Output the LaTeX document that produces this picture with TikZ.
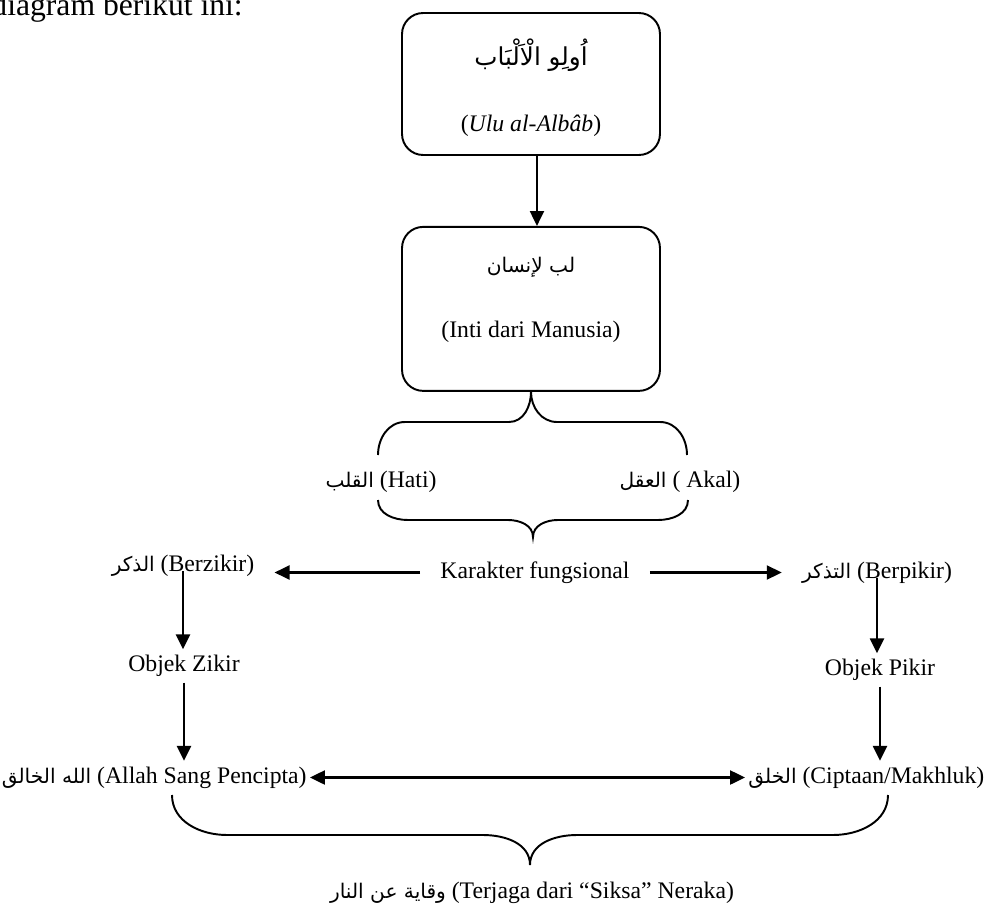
\documentclass[tikz,border=0pt]{standalone}
\usepackage{fontspec}
\setmainfont{Liberation Serif}
\newfontfamily\arabicfont[Script=Arabic,Scale=0.85]{DejaVu Sans}
\TeXXeTstate=1
\usetikzlibrary{positioning,arrows.meta}
\newcommand{\arab}[1]{{\arabicfont\beginR#1\endR}}

\begin{document}
\begin{tikzpicture}[
  x=0.02cm, y=-0.02cm,
  font=\fontsize{13.5}{16}\selectfont,
  panel/.style  ={draw, rounded corners=12pt, line width=1.1pt,
                  minimum width=5.16cm, minimum height=2.84cm},
  lbl/.style    ={text height=0.32cm, text depth=0.1cm},
  rowlbl/.style ={lbl, inner xsep=0.4cm},
  endlbl/.style ={lbl, inner xsep=0.06cm},
  bracepath/.style={line width=1.1pt},
  arr/.style    ={-{Triangle[length=8.5pt,width=8pt]}, line width=1.2pt},
  dbl/.style    ={{Triangle[length=8.5pt,width=8pt]}-{Triangle[length=8.5pt,width=8pt]}, line width=1.2pt}
]
\useasboundingbox (0,0) rectangle (995,916);
\node[anchor=base east, inner sep=0pt, font=\fontsize{18}{21}\selectfont] (judul) at (243,15) {diagram berikut ini:};

\node[panel] (ulu) at (531,84) {};
\node[panel, minimum height=3.28cm, below=1.4cm of ulu] (lubb) {};
\node[font=\fontsize{16.5}{19}\selectfont] (uluar) at (531,55) {\arab{اُولِو الْاَلْبَاب}};
\node (ulutr) at (531,126) {(\textit{Ulu al-Albâb})};
\node (lubbar) at (531,267) {\arab{لب لإنسان}};
\node (lubbtr) at (531,332) {(Inti dari Manusia)};

\node[lbl, anchor=base] (hati) at (381,487) {\arab{القلب} (Hati)};
\node[lbl, anchor=base] (akal) at (680,487) {\arab{العقل} ( Akal)};

\node[rowlbl, anchor=base] (karakter) at (535,578) {Karakter fungsional};
\node[rowlbl, anchor=base] (zikir) at (183,571) {\arab{الذكر} (Berzikir)};
\node[rowlbl, anchor=base] (pikir) at (877,578) {\arab{التذكر} (Berpikir)};
\node[lbl] (objzikir) at (184,666) {Objek Zikir};
\node[lbl] (objpikir) at (880,670) {Objek Pikir};
\node[endlbl, anchor=base east] (khaliq) at (310,783) {\arab{الله الخالق} (Allah Sang Pencipta)};
\node[endlbl, anchor=base west] (makhluk) at (745,783) {\arab{الخلق} (Ciptaan/Makhluk)};
\node[lbl, anchor=base] (wiqayah) at (532,898) {\arab{وقاية عن النار} (Terjaga dari “Siksa” Neraka)};

\draw[arr] ([xshift=3.4pt]ulu.south) -- ([xshift=3.4pt]lubb.north);
\draw[bracepath] (lubb.south) to[out=-90,in=0] (509,422) -- (405,422) to[out=180,in=90] (378,455);
\draw[bracepath] (lubb.south) to[out=-90,in=180] (557,422) -- (660,422) to[out=0,in=90] (687,455);
\draw[bracepath] (378,500) to[out=-90,in=180] (408,520) -- (508,520) to[out=0,in=90] (533,537)
  to[out=90,in=180] (558,520) -- (658,520) to[out=0,in=-90] (688,500);
\draw[arr] (karakter.west) -- (zikir.east |- karakter.west);
\draw[arr] (karakter.east) -- (pikir.west |- karakter.east);
\draw[arr] (zikir.base) -- (zikir.base |- objzikir.north);
\draw[arr] (objzikir.south) -- (objzikir.south |- khaliq.north);
\draw[arr] (pikir.base) -- (pikir.base |- objpikir.north);
\draw[arr] (objpikir.south) -- (objpikir.south |- makhluk.north);
\draw[dbl] (khaliq.east) -- (khaliq.east -| makhluk.west);
\draw[bracepath] (172,795) to[out=-90,in=180] (227,835) -- (483,835) to[out=0,in=90] (530,865)
  to[out=90,in=180] (577,835) -- (833,835) to[out=0,in=-90] (888,795);
\end{tikzpicture}
\end{document}
